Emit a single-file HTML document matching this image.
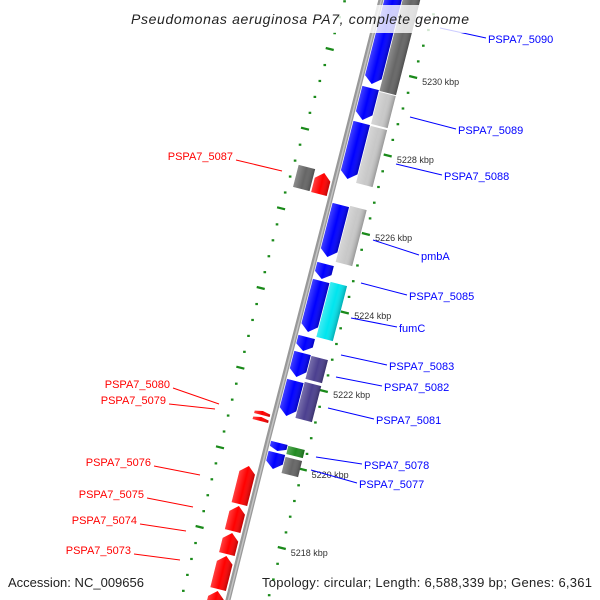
<!DOCTYPE html>
<html><head><meta charset="utf-8"><style>
html,body{margin:0;padding:0;background:#fff;width:600px;height:600px;overflow:hidden}
svg{display:block;font-family:"Liberation Sans",sans-serif;overflow:hidden}
</style></head><body>
<svg id="map" width="600" height="600" viewBox="0 0 600 600">
<defs>
<linearGradient id="gshade" x1="0" y1="0" x2="1" y2="0">
<stop offset="0" stop-color="#fff" stop-opacity="0.25"/><stop offset="0.5" stop-color="#fff" stop-opacity="0"/><stop offset="1" stop-color="#000" stop-opacity="0.25"/>
</linearGradient>
<clipPath id="frame"><rect x="0" y="0" width="600" height="600"/></clipPath>
</defs>
<g clip-path="url(#frame)">
<g id="ticks"></g>
<polyline id="backbone" points="386,-20 330,200 268,440 228,600 223,620" fill="none" stroke="#999" stroke-width="5"/>
<polyline points="386,-20 330,200 268,440 228,600 223,620" fill="none" stroke="#c4c4c4" stroke-width="1.5" transform="translate(0.5,0)"/>
<g id="genes"></g>
<g id="labels"></g>
</g>
<rect x="125" y="5" width="350" height="28" fill="#fff" fill-opacity="0.8"/>
<text x="300" y="24" text-anchor="middle" font-size="14" font-style="italic" fill="#222" textLength="338">Pseudomonas aeruginosa PA7, complete genome</text>
<text x="8" y="587" font-size="13" fill="#222" textLength="136">Accession: NC_009656</text>
<text x="592" y="587" font-size="13" fill="#222" text-anchor="end" textLength="330">Topology: circular; Length: 6,588,339 bp; Genes: 6,361</text>
</svg>
<script>
// genes: page-y start/end, track, color, direction (1 = down, -1 = up, 0 = box)
const geneStart = [-30, 87, 122, 204, 263, 280, 336, 352, 380, 442, 452, -40, 93, 127, 207, 283, 357, 383, 447, 458, 166, 172, 410, 416, 465, 505, 532, 555, 590];
const geneEnd   = [85, 121, 180, 258, 280, 333, 352, 378, 417, 452, 470, 94, 127, 186, 265, 340, 382, 421, 457, 476, 190, 195, 416, 422, 505, 532, 555, 590, 640];
const geneTrack = ['f','f','f','f','f','f','f','f','f','f','f','c','c','c','c','c','c','c','c','c','lc','r','r','r','r','r','r','r','r'];
const geneColor = ['#0000ff','#0000ff','#0000ff','#0000ff','#0000ff','#0000ff','#0000ff','#0000ff','#0000ff','#0000ff','#0000ff','#666666','#c8c8c8','#c8c8c8','#c8c8c8','#00e5ee','#4b3f8f','#4b3f8f','#228b22','#666666','#666666','#ff0000','#ff0000','#ff0000','#ff0000','#ff0000','#ff0000','#ff0000','#ff0000'];
const geneDir   = [1,1,1,1,1,1,1,1,1,1,1,0,0,0,0,0,0,0,0,0,0,-1,-1,-1,-1,-1,-1,-1,-1];
// tick labels
const tickLabels = ['5230 kbp','5228 kbp','5226 kbp','5224 kbp','5222 kbp','5220 kbp','5218 kbp'];
const tickY = [77,155,233,311,390,470,548];
const leftTickY = [49,128,208,288,368,447,527];
// gene labels
const labelText = ['PSPA7_5090','PSPA7_5089','PSPA7_5088','pmbA','PSPA7_5085','fumC','PSPA7_5083','PSPA7_5082','PSPA7_5081','PSPA7_5078','PSPA7_5077','PSPA7_5087','PSPA7_5080','PSPA7_5079','PSPA7_5076','PSPA7_5075','PSPA7_5074','PSPA7_5073'];
const labelSide = [1,1,1,1,1,1,1,1,1,1,1,-1,-1,-1,-1,-1,-1,-1];
const labelX = [488,458,444,421,409,399,389,384,376,364,359,233,170,166,151,144,137,131];
const labelY = [39,130,176,256,296,328,366,387,420,465,484,156,384,400,462,494,520,550];
const labelAnchorY = [28,117,164,240,283,318,355,377,408,457,470,171,404,409,475,507,531,560];

const NS='http://www.w3.org/2000/svg';
const bbPts=[[386,-20],[330,200],[268,440],[228,600],[223,620]];
function bx(y){for(let k=0;k<bbPts.length-1;k++){const a=bbPts[k],b=bbPts[k+1];if(y<=b[1]||k===bbPts.length-2)return a[0]+(b[0]-a[0])*(y-a[1])/(b[1]-a[1]);}}
const tracks={f:[4,21],c:[23,40],r:[-21,-5],lc:[-41,-24]};
const gg=document.getElementById('genes');
function mk(t,a,p){const e=document.createElementNS(NS,t);for(const k in a)e.setAttribute(k,a[k]);p.appendChild(e);return e;}
geneStart.forEach((ys,i)=>{
  const [v0,v1]=tracks[geneTrack[i]];const vm=(v0+v1)/2;
  const yc=(ys+geneEnd[i])/2;
  const slope=(bx(yc-5)-bx(yc+5))/10;const ang=Math.atan(slope);
  const C=Math.cos(ang),S=Math.sin(ang);
  const half=(geneEnd[i]-ys)/2/C-1;
  const u0=-half,u1=half;
  const grp=mk('g',{transform:`translate(${bx(yc)-vm*0},${yc - vm*S}) rotate(${ang*180/Math.PI})`},gg);
  
  
  const h=Math.min(7,(u1-u0)*0.4);let pts;
  if(geneDir[i]===1) pts=[[v0,u0],[v1,u0],[v1,u1-h],[vm,u1],[v0,u1-h]];
  else if(geneDir[i]===-1) pts=[[vm,u0],[v1,u0+h],[v1,u1],[v0,u1],[v0,u0+h]];
  else pts=[[v0,u0],[v1,u0],[v1,u1],[v0,u1]];
  const d=pts.map(p=>p.join(',')).join(' ');
  const g=mk('polygon',{points:d,fill:geneColor[i]},grp);
  
  
  const s=mk('polygon',{points:d,fill:'url(#gshade)'},grp);
  
  
});
const tg=document.getElementById('ticks');
function interp(pts,y){for(let k=0;k<pts.length-1;k++){const a=pts[k],b=pts[k+1];if(y<=b[1]||k===pts.length-2){return a[0]+(b[0]-a[0])*(y-a[1])/(b[1]-a[1]);}}}
const rightLine=[[430,25],[383,170],[270,592]];
const leftLine=[[344,3],[285,193],[183,592]];
function ring(line,majors){
  const step=(majors[majors.length-1]-majors[0])/((majors.length-1)*5);
  for(let y=majors[0]-step*6;y<605;y+=step){
    const x=interp(line,y);
    const isMajor=majors.some(m=>Math.abs(m-y)<2);
    let e;
    if(isMajor) e=mk('line',{x1:x-4,y1:y-1,x2:x+4,y2:y+1,stroke:'#1a8a1a','stroke-width':2.2},tg);
    else e=mk('rect',{x:x-1.3,y:y-1,width:2.6,height:2.2,fill:'#1a8a1a'},tg);
    
    
  }
}
ring(rightLine,tickY);ring(leftLine,leftTickY);
const lg=document.getElementById('labels');
tickLabels.forEach((t,i)=>{
  const x=interp(rightLine,tickY[i])+9;
  const e=mk('text',{x:x,y:tickY[i]+8,'font-size':9,fill:'#333'},lg);e.textContent=t;
  
  
});
labelText.forEach((t,i)=>{
  const side=labelSide[i];const ay=labelAnchorY[i];const tx=labelX[i];
  let x1,x2;
  if(side===1){x2=tx-2;x1=tx-48;}else{x2=tx+3;x1=tx+49;}
  const c=side===1?'#0000ff':'#ff0000';
  const l=mk('line',{x1:x1,y1:ay,x2:x2,y2:labelY[i]+(side===1?-1:4),stroke:c,'stroke-width':1},lg);
  
  
  const e=mk('text',{x:tx,y:labelY[i]+4,'font-size':11,fill:c,'text-anchor':side===1?'start':'end'},lg);
  e.textContent=t;
  
  
});
</script>
</body></html>
